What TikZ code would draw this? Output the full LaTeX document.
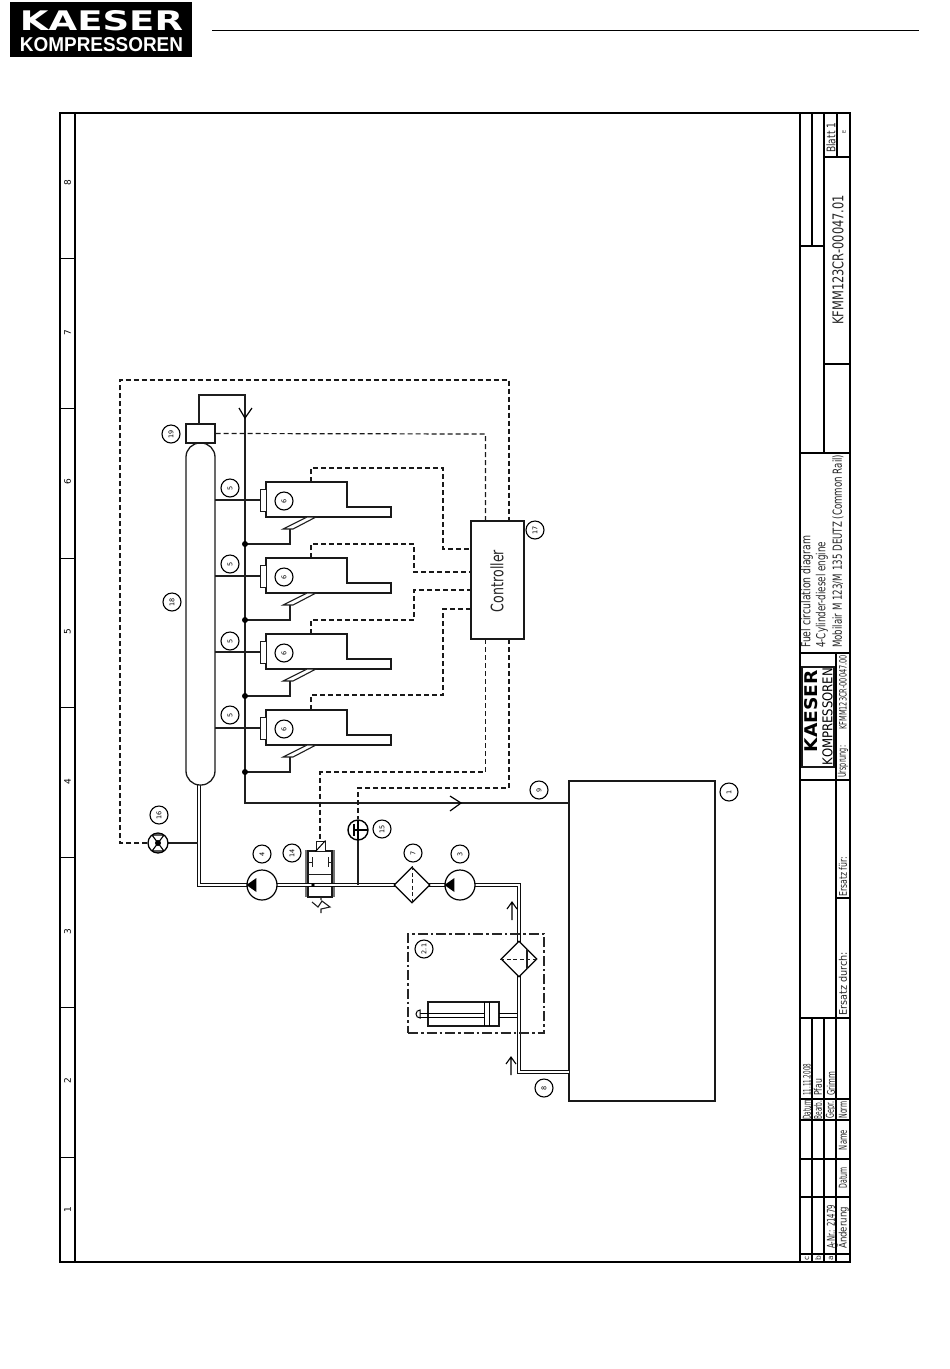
\documentclass[tikz,border=0pt]{standalone}
\usepackage{fontspec}
\setmainfont{DejaVu Sans}
\usetikzlibrary{shapes.geometric,calc}
\newcommand\fit[3]{\resizebox{#1pt}{#2pt}{#3}}
\tikzset{
  ln/.style={draw=black!88,line width=1.2pt},
  thick line/.style={draw=black,line width=1.5pt},
  sig/.style={draw=black!90,line width=1.2pt,dash pattern=on 5pt off 3pt},
  pipe/.style={draw=black!95,line width=1.3pt,double=white,double distance=1.3pt},
  tag/.style={circle,draw=black,line width=1.1pt,fill=white,inner sep=0pt,minimum size=18pt,rotate=90,font=\fontsize{6.5}{7}\selectfont},
  pumpnode/.style={circle,draw=black,line width=1.2pt,fill=white,inner sep=0pt,minimum size=30pt},
  filt/.style={diamond,aspect=1,draw=black,line width=1.3pt,fill=white,inner sep=0pt,minimum size=36pt},
  box/.style={rectangle,draw=black!90,line width=1.3pt,inner sep=0pt},
  ttxt/.style={rotate=90,anchor=west,inner sep=0pt,text=black!85},
  ctxt/.style={rotate=90,anchor=center,inner sep=0pt,text=black!85},
  zonenum/.style={rotate=90,inner sep=0pt,font=\fontsize{9}{10}\selectfont},
}
\begin{document}
\begin{tikzpicture}[x=1pt,y=-1pt]
\useasboundingbox (0,0) rectangle (950,1369);
\fill[white] (0,0) rectangle (950,1369);

% header
\node[rectangle,fill=black,minimum width=182pt,minimum height=55pt,inner sep=0pt] (logo) at (101,29.5) {};
\node[inner sep=0pt,text=white] (logoA) at (101.5,20.5) {\fit{163}{20}{\fontspec{DejaVu Sans}\bfseries KAESER}};
\node[inner sep=0pt,text=white] (logoB) at (101.5,45) {\fit{163}{14}{\fontspec{Liberation Sans}\bfseries KOMPRESSOREN}};
\coordinate (hlA) at (212,30); \coordinate (hlB) at (919,30);
\draw[line width=1pt] (hlA) -- (hlB);

% drawing frame
\draw[thick line] (60,113) rectangle (850,1262);
\draw[thick line,line width=1.2pt] (75,113) -- (75,1262);
\foreach \y in {258,408,558,707,857,1007,1157} \draw[line width=1pt] (60,\y) -- (75,\y);
\foreach \n/\y in {8/183,7/333,6/482,5/632,4/782,3/932,2/1081,1/1210}
  \node[zonenum] (z\n) at (67.5,\y) {\n};

% title block lines
\draw[line width=1.1pt]
  (800,113) -- (800,1262)
  (812,113) -- (812,246) (800,246) -- (824,246)
  (824,113) -- (824,453)
  (837,113) -- (837,157) (824,157) -- (850,157)
  (824,364) -- (850,364)
  (800,453) -- (850,453)
  (800,653) -- (850,653)
  (800,780) -- (850,780)
  (836,653) -- (836,1262)
  (836,898) -- (850,898)
  (800,1018) -- (850,1018)
  (812,1018) -- (812,1262)
  (824,1018) -- (824,1262)
  (800,1099) -- (850,1099)
  (800,1120) -- (850,1120)
  (800,1159) -- (850,1159)
  (800,1197) -- (850,1197)
  (800,1254) -- (850,1254);

% title block texts
\node[ttxt] (tA) at (838,325) {\fit{130}{11}{KFMM123CR-00047.01}};
\node[ttxt] (tB) at (831,153) {\fit{30}{9}{Blatt 1}};
\node[ctxt] (tC) at (844,132) {\fontsize{5}{6}\selectfont E};
\node[ttxt] (tD) at (807,648) {\fit{112}{9.5}{Fuel circulation diagram}};
\node[ttxt] (tE) at (822,648) {\fit{106}{9.5}{4-Cylinder-diesel engine}};
\node[ttxt] (tF) at (838,648) {\fit{193}{9.5}{Mobilair M 123/M 135 DEUTZ (Common Rail)}};
\node[box,minimum width=32pt,minimum height=100pt,line width=1.4pt] (tlogo) at (818,717) {};
\node[rotate=90,inner sep=0pt] (tG) at (811.5,711) {\fit{82}{13}{\bfseries KAESER}};
\node[rotate=90,inner sep=0pt] (tH) at (827.5,716.5) {\fit{97}{10}{KOMPRESSOREN}};
\node[ttxt] (tI) at (843,778) {\fit{32}{8}{Ursprung:}};
\node[ttxt] (tJ) at (843,730) {\fit{75}{7.5}{KFMM123CR-00047.00}};
\node[ttxt] (tK) at (843,897) {\fit{40}{8}{Ersatz für:}};
\node[ttxt] (tL) at (843,1016) {\fit{64}{8}{Ersatz durch:}};
\node[ttxt] (tM) at (807,1096) {\fit{32}{7.5}{11.11.2008}};
\node[ttxt] (tN) at (818,1096) {\fit{17}{8}{Pfau}};
\node[ttxt] (tO) at (831,1096) {\fit{24}{8}{Grimm}};
\node[ctxt] (tP) at (807,1110) {\fit{19}{8}{Datum}};
\node[ctxt] (tQ) at (818,1110) {\fit{19}{8}{Bearb.}};
\node[ctxt] (tR) at (831,1110) {\fit{17}{8}{Gepr.}};
\node[ctxt] (tS) at (843,1110) {\fit{17}{8}{Norm}};
\node[ctxt] (tT) at (843,1140) {\fit{20}{8}{Name}};
\node[ctxt] (tU) at (843,1178) {\fit{21}{8}{Datum}};
\node[ttxt] (tV) at (843,1249) {\fit{42}{9.5}{Änderung}};
\node[ttxt] (tW) at (831,1249) {\fit{44}{8}{A-Nr.: 21479}};
\node[ctxt] (tX) at (807,1258) {\fontsize{7.5}{8}\selectfont c};
\node[ctxt] (tY) at (818,1258) {\fontsize{7.5}{8}\selectfont b};
\node[ctxt] (tZ) at (831,1258) {\fontsize{7.5}{8}\selectfont a};

% tank, controller
\node[box,minimum width=146pt,minimum height=320pt] (tank) at (642,941) {};
\node[box,minimum width=53pt,minimum height=118pt] (ctrl) at (497.5,580) {};
\node[rotate=90,inner sep=0pt,text=black!85] (ctrlT) at (497,581) {\fit{62}{13}{Controller}};

% coordinates of the pipe run
\coordinate (railOut) at (199,785);
\coordinate (rc) at (199,885);
\coordinate (pc1) at (519,885);
\coordinate (pc2) at (519,1072);
\coordinate (tankIn) at (569,1072);

% valve 14 (drawn under the pipe)
\node[box,minimum width=24pt,minimum height=46pt,line width=1.1pt] (v14) at (320,874) {};
\draw[ln,line width=1pt] (v14.west |- 0,874) -- (v14.east |- 0,874);
\draw[draw=black!55,line width=1.5pt] (306,850) -- (306,897) (334,850) -- (334,897);

% pipes
\draw[pipe] (railOut) -- (rc) -- (pc1) -- (pc2) -- (tankIn);
\draw[ln,line width=1.5pt] (358,885) -- (358,840);
\draw[ln,line width=1.4pt] (158,843) -- (198,843);

% valve 14 details
\fill (313,885) circle (1.8);
\draw[ln,line width=1pt] (308,862) -- (312,862) (312,857) -- (312,867) (332,862) -- (328,862) (328,857) -- (328,867);
\node[box,minimum width=9pt,minimum height=10pt,line width=1pt,fill=white] (sol) at (320.5,846) {};
\draw[line width=1pt] (sol.south west) -- (sol.north east);
\draw[ln,line width=1.1pt] (321,897) -- (321,900) (312,902) -- (318,907) -- (322,901) -- (330,907) -- (321,909) -- (321,913);

% pumps
\node[pumpnode] (p4) at (262,885) {};
\node[pumpnode] (p3) at (460,885) {};
\fill (p4.west) -- ++(10,-7) -- ++(0,14) -- cycle;
\fill (p3.west) -- ++(10,-7) -- ++(0,14) -- cycle;

% filters
\node[filt] (f7) at (412,885) {};
\draw[sig,line width=1pt,dash pattern=on 4pt off 2.5pt] (f7.north) -- (f7.south);
\node[filt] (f21) at (519,959) {};
\draw[sig,line width=1pt,dash pattern=on 4pt off 2.5pt] (f21.west) -- (f21.east);
\draw[ln] (527,949) -- (527,969);

% box 2.1 and cylinder
\node[rectangle,draw=black!85,line width=1.2pt,dash pattern=on 10pt off 3pt on 2.5pt off 3pt,minimum width=136pt,minimum height=99pt,inner sep=0pt] (g21) at (476,983.5) {};
\node[box,minimum width=71pt,minimum height=24pt,line width=1.1pt] (cyl) at (463.5,1014) {};
\draw[line width=1pt] (484,1002) -- (484,1026) (489.5,1002) -- (489.5,1026);
\draw[line width=1pt] (420,1013) -- (484,1013) (420,1017) -- (484,1017);
\draw[line width=1pt] (499,1013) -- (517,1013) (499,1017) -- (517,1017);
\draw[line width=1pt,fill=white] (420,1010) arc (-90:-270:4) -- cycle;
\node[tag] (t21) at (424,949) {2.1};

% arrows on pipes
\coordinate (aA) at (512,920); \coordinate (aB) at (512,902);
\draw[line width=1.1pt] (aA) -- (aB) (507,909) -- (aB) -- (517,909);
\coordinate (aC) at (511,1075); \coordinate (aD) at (511,1057);
\draw[line width=1.1pt] (aC) -- (aD) (506,1064) -- (aD) -- (516,1064);

% rail
\node[rectangle,draw=black!90,line width=1.3pt,fill=white,rounded corners=14pt,minimum width=29pt,minimum height=342pt,inner sep=0pt] (rail) at (200.5,614) {};
\node[box,minimum width=29pt,minimum height=19pt,fill=white] (s19) at (200.5,433.5) {};

% return line
\coordinate (rA) at (199,395); \coordinate (rB) at (245,395); \coordinate (rC) at (245,803);
\coordinate (tankR) at (569,803);
\draw[ln] (199,424) -- (rA) -- (rB) -- (rC) -- (tankR);
\draw[line width=1.2pt] (239,408) -- (245,418) -- (252,408);
\draw[line width=1.2pt] (450,796) -- (461,803) -- (450,811);

% injectors
\foreach \i/\t in {1/482,2/558,3/634,4/710}{
  \coordinate (b\i) at (266,\t);
  \draw[draw=black!90,line width=1.4pt,fill=white] (b\i) -- (347,\t) -- ($(347,\t)+(0,25)$) -- ($(391,\t)+(0,25)$) -- ($(391,\t)+(0,35)$) -- ($(266,\t)+(0,35)$) -- cycle;
  \node[box,minimum width=6pt,minimum height=22pt,line width=1pt,fill=white] (h\i) at (263,\t+18.5) {};
  \draw[ln] (215,\t+18) -- (260,\t+18);
  \draw[ln,line width=1.1pt,fill=white] (307,\t+35) -- (316,\t+35) -- (293,\t+47) -- (283,\t+47) -- cycle;
  \coordinate (d\i) at (245,\t+62);
  \draw[ln] (290,\t+47) -- (290,\t+62) -- (d\i);
  \fill (d\i) circle (3);
  \node[tag] (six\i) at (284,\t+19) {6};
}
\node[tag] (fiveA) at (230,488) {5};
\node[tag] (fiveB) at (230,564) {5};
\node[tag] (fiveC) at (230,641) {5};
\node[tag] (fiveD) at (230,715) {5};

% valve 16
\node[circle,draw=black,line width=1.3pt,fill=white,minimum size=20pt,inner sep=0pt] (v16) at (158,843) {};
\draw[line width=1.1pt] (152,835) -- (158,843) -- (164,835) (152,851) -- (158,843) -- (164,851) (153,835) -- (163,835) (153,851) -- (163,851);
\fill (158,843) circle (3);

% sensor 15
\node[circle,draw=black,line width=1.4pt,fill=white,minimum size=20pt,inner sep=0pt] (s15) at (358,830) {};
\draw[line width=1.8pt] (354,824) -- (354,836) (354,830) -- (367,830);
\draw[line width=1.2pt] (358,820) -- (358,840);

% signal lines
\draw[sig] (v16.west) -- (120,843) -- (120,380) -- (509,380) -- (509,521);
\draw[sig] (s19.east) -- (485.5,434) -- (485.5,521);
\draw[sig] (311,482) -- (311,468) -- (443,468) -- (443,549) -- (ctrl.west |- 0,549);
\draw[sig] (311,558) -- (311,544) -- (414,544) -- (414,572) -- (ctrl.west |- 0,572);
\draw[sig] (311,634) -- (311,620) -- (414,620) -- (414,590) -- (ctrl.west |- 0,590);
\draw[sig] (311,710) -- (311,695) -- (443,695) -- (443,609) -- (ctrl.west |- 0,609);
\draw[sig] (485.5,639) -- (485.5,772) -- (320,772) -- (320,841);
\draw[sig] (509,639) -- (509,788) -- (358,788) -- (s15.north);

% tags
\node[tag] (t19) at (171,434) {19};
\node[tag] (t18) at (172,602) {18};
\node[tag] (t16) at (159,815) {16};
\node[tag] (t4) at (262,854) {4};
\node[tag] (t14) at (292,853) {14};
\node[tag] (t15) at (382,829) {15};
\node[tag] (t7) at (413,853) {7};
\node[tag] (t3) at (460,854) {3};
\node[tag] (t9) at (539,790) {9};
\node[tag] (t8) at (544,1088) {8};
\node[tag] (t1) at (729,792) {1};
\node[tag] (t17) at (535,530) {17};
\end{tikzpicture}
\end{document}
